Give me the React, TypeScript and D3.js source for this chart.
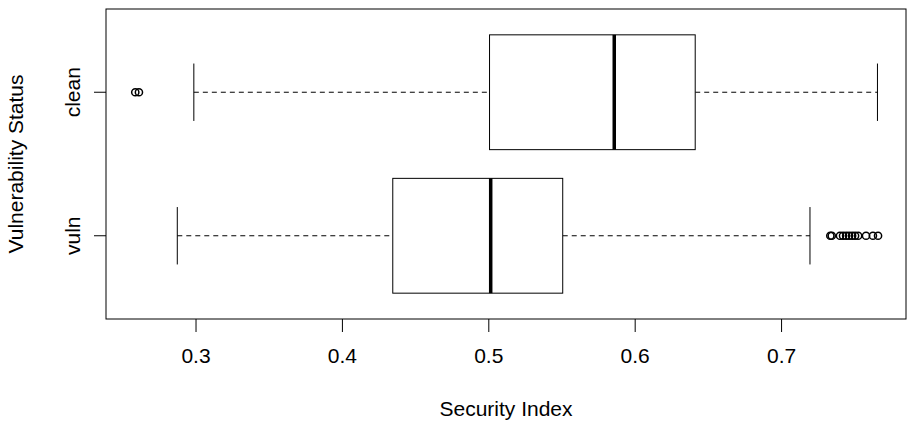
import React from "react";
import * as d3 from "d3";

// box statistics
const groups = ["clean", "vuln"];
const groupPos = [2, 1];
const lowerWhisker = [0.2985, 0.2872];
const q1 = [0.5005, 0.4344];
const medians = [0.5857, 0.5013];
const q3 = [0.641, 0.5505];
const upperWhisker = [0.7655, 0.7194];
const outliersClean = [0.2585, 0.261];
const outliersVuln = [0.7333, 0.7343, 0.7399, 0.742, 0.7441, 0.7461, 0.7482, 0.7502, 0.7523, 0.7577, 0.7624, 0.7659];
const xTicks = [0.3, 0.4, 0.5, 0.6, 0.7];

const width = 907;
const height = 422;
const font = "Liberation Sans, Arial, sans-serif";
const fontSize = 21;

const App = () => {
    const left = 106, right = 906, top = 9, bottom = 319;

    const x = d3.scaleLinear().domain([0.2385, 0.785]).range([left, right]);
    const y = d3.scaleLinear().domain([0.42, 2.58]).range([bottom, top]);
    const halfBox = y(0) - y(0.4);
    const halfCap = halfBox / 2;
    const outliers = [outliersClean, outliersVuln];

    return (
        <svg width={width} height={height} style={{ position: "absolute", left: 0, top: 0, background: "white" }}>
            {/* boxes */}
            {groups.map((g, i) => {
                const cy = y(groupPos[i]);
                return (
                    <g key={g}>
                        {/* whiskers */}
                        <line x1={x(lowerWhisker[i])} x2={x(q1[i])} y1={cy} y2={cy} stroke="black" strokeDasharray="5,4" />
                        <line x1={x(q3[i])} x2={x(upperWhisker[i])} y1={cy} y2={cy} stroke="black" strokeDasharray="5,4" />
                        <line x1={x(lowerWhisker[i])} x2={x(lowerWhisker[i])} y1={cy - halfCap} y2={cy + halfCap} stroke="black" />
                        <line x1={x(upperWhisker[i])} x2={x(upperWhisker[i])} y1={cy - halfCap} y2={cy + halfCap} stroke="black" />
                        <rect
                            x={x(q1[i])}
                            y={cy - halfBox}
                            width={x(q3[i]) - x(q1[i])}
                            height={halfBox * 2}
                            fill="white"
                            stroke="black"
                        />
                        <line x1={x(medians[i])} x2={x(medians[i])} y1={cy - halfBox} y2={cy + halfBox} stroke="black" strokeWidth={3.5} />
                        {outliers[i].map((v, j) => (
                            <circle key={j} cx={x(v)} cy={cy} r={3.6} fill="none" stroke="black" strokeWidth={1.5} />
                        ))}
                    </g>
                );
            })}

            {/* frame */}
            <rect x={left} y={top} width={right - left} height={bottom - top} fill="none" stroke="black" />

            {/* x axis */}
            {xTicks.map((t) => (
                <g key={t}>
                    <line x1={x(t)} x2={x(t)} y1={bottom} y2={bottom + 13} stroke="black" />
                    <text x={x(t)} y={bottom + 44} textAnchor="middle" fontFamily={font} fontSize={fontSize}>
                        {t.toFixed(1)}
                    </text>
                </g>
            ))}
            <text x={(left + right) / 2} y={416} textAnchor="middle" fontFamily={font} fontSize={fontSize}>
                Security Index
            </text>

            {/* y axis */}
            {groups.map((g, i) => (
                <g key={g}>
                    <line x1={left - 12} x2={left} y1={y(groupPos[i])} y2={y(groupPos[i])} stroke="black" />
                    <text
                        transform={`translate(${left - 26},${y(groupPos[i])}) rotate(-90)`}
                        textAnchor="middle"
                        fontFamily={font}
                        fontSize={fontSize}
                    >
                        {g}
                    </text>
                </g>
            ))}
            <text
                transform={`translate(23,${(top + bottom) / 2}) rotate(-90)`}
                textAnchor="middle"
                fontFamily={font}
                fontSize={fontSize}
            >
                Vulnerability Status
            </text>
        </svg>
    );
};

export default App;
